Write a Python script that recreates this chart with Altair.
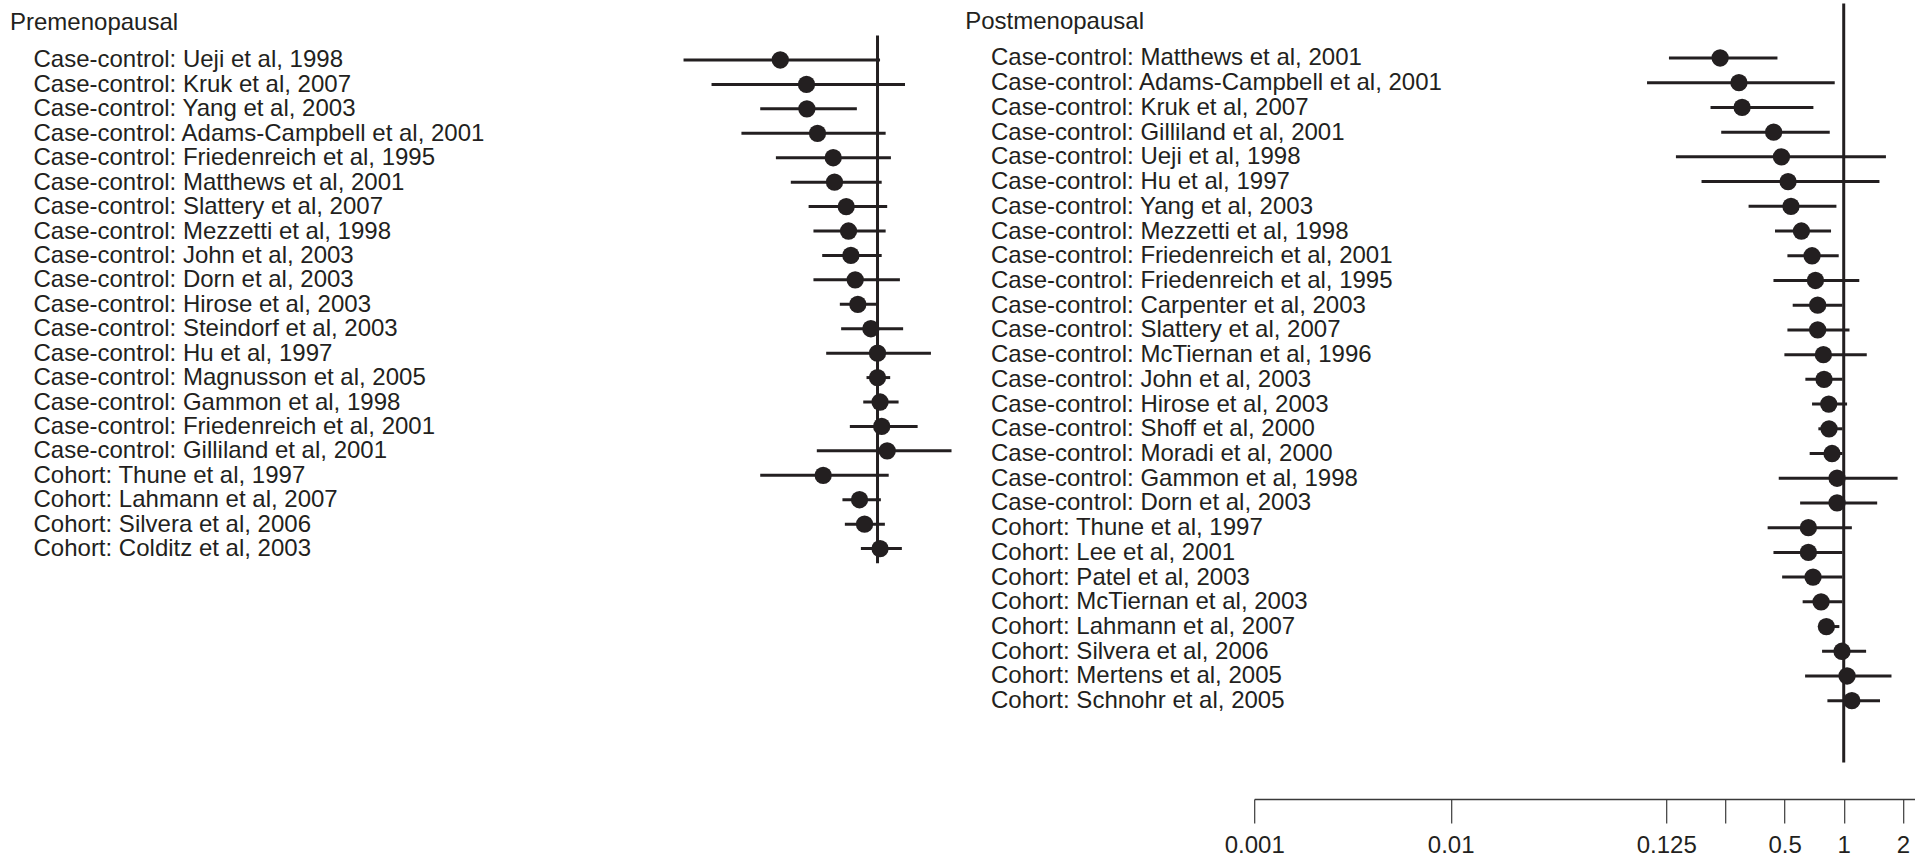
import altair as alt
import pandas as pd

# ---------------- data ----------------
pre_names = [
    "Case-control: Ueji et al, 1998",
    "Case-control: Kruk et al, 2007",
    "Case-control: Yang et al, 2003",
    "Case-control: Adams-Campbell et al, 2001",
    "Case-control: Friedenreich et al, 1995",
    "Case-control: Matthews et al, 2001",
    "Case-control: Slattery et al, 2007",
    "Case-control: Mezzetti et al, 1998",
    "Case-control: John et al, 2003",
    "Case-control: Dorn et al, 2003",
    "Case-control: Hirose et al, 2003",
    "Case-control: Steindorf et al, 2003",
    "Case-control: Hu et al, 1997",
    "Case-control: Magnusson et al, 2005",
    "Case-control: Gammon et al, 1998",
    "Case-control: Friedenreich et al, 2001",
    "Case-control: Gilliland et al, 2001",
    "Cohort: Thune et al, 1997",
    "Cohort: Lahmann et al, 2007",
    "Cohort: Silvera et al, 2006",
    "Cohort: Colditz et al, 2003",
]
pre_est = [0.32, 0.435, 0.437, 0.495, 0.595, 0.604, 0.693, 0.712, 0.732, 0.770,
           0.794, 0.925, 1.0, 1.0, 1.03, 1.05, 1.12, 0.529, 0.810, 0.859, 1.03]
pre_low = [0.103, 0.143, 0.253, 0.203, 0.304, 0.362, 0.446, 0.472, 0.523, 0.472,
           0.643, 0.653, 0.548, 0.879, 0.846, 0.723, 0.491, 0.253, 0.663, 0.682, 0.823]
pre_high = [1.03, 1.38, 0.785, 1.10, 1.17, 1.05, 1.12, 1.10, 1.05, 1.30,
            0.99, 1.35, 1.87, 1.16, 1.28, 1.60, 2.38, 1.14, 1.04, 1.09, 1.33]

post_names = [
    "Case-control: Matthews et al, 2001",
    "Case-control: Adams-Campbell et al, 2001",
    "Case-control: Kruk et al, 2007",
    "Case-control: Gilliland et al, 2001",
    "Case-control: Ueji et al, 1998",
    "Case-control: Hu et al, 1997",
    "Case-control: Yang et al, 2003",
    "Case-control: Mezzetti et al, 1998",
    "Case-control: Friedenreich et al, 2001",
    "Case-control: Friedenreich et al, 1995",
    "Case-control: Carpenter et al, 2003",
    "Case-control: Slattery et al, 2007",
    "Case-control: McTiernan et al, 1996",
    "Case-control: John et al, 2003",
    "Case-control: Hirose et al, 2003",
    "Case-control: Shoff et al, 2000",
    "Case-control: Moradi et al, 2000",
    "Case-control: Gammon et al, 1998",
    "Case-control: Dorn et al, 2003",
    "Cohort: Thune et al, 1997",
    "Cohort: Lee et al, 2001",
    "Cohort: Patel et al, 2003",
    "Cohort: McTiernan et al, 2003",
    "Cohort: Lahmann et al, 2007",
    "Cohort: Silvera et al, 2006",
    "Cohort: Mertens et al, 2005",
    "Cohort: Schnohr et al, 2005",
]
post_est = [0.235, 0.293, 0.304, 0.440, 0.482, 0.521, 0.539, 0.609, 0.690, 0.718,
            0.737, 0.737, 0.788, 0.794, 0.839, 0.842, 0.872, 0.925, 0.925, 0.661,
            0.661, 0.698, 0.767, 0.816, 0.98, 1.04, 1.10]
post_low = [0.129, 0.0998, 0.210, 0.238, 0.140, 0.189, 0.328, 0.447, 0.517, 0.439,
            0.550, 0.517, 0.499, 0.638, 0.690, 0.743, 0.671, 0.467, 0.600, 0.410,
            0.439, 0.486, 0.618, 0.76, 0.776, 0.636, 0.826]
post_high = [0.460, 0.90, 0.701, 0.849, 1.64, 1.52, 0.918, 0.862, 0.943, 1.20,
             0.985, 1.07, 1.31, 0.985, 1.04, 0.985, 0.985, 1.88, 1.48, 1.10,
             0.985, 0.985, 0.985, 0.95, 1.30, 1.75, 1.53]

x_tick_values = [0.001, 0.01, 0.125, 0.25, 0.5, 1, 2]
x_tick_labels = ["0.001", "0.01", "0.125", "", "0.5", "1", "2"]

# ---------------- styling ----------------
INK = "#231f20"
FONT = "Liberation Sans"
FS = 24
W = 660.6
H = 797


def js_list(items):
    return "[" + ",".join("'" + str(s) + "'" for s in items) + "]"


def panel(names, est, low, high, title, y_dom, ref_ext, label_pad, title_x, title_y, show_x):
    n = len(names)
    df = pd.DataFrame({"row": list(range(n)), "study": names,
                       "est": est, "low": low, "high": high})
    ref = pd.DataFrame({"x": [1.0], "y": [ref_ext[0]], "y2": [ref_ext[1]]})

    xscale = alt.Scale(type="log", domain=[0.001, 2.3], nice=False)
    yscale = alt.Scale(domain=y_dom, reverse=True, nice=False, zero=False)

    yaxis = alt.Axis(
        values=list(range(n)),
        labelExpr=js_list(names) + "[datum.value]",
        labelAlign="left", labelBaseline="middle", labelPadding=label_pad,
        labelLimit=700, labelOverlap=False, labelFontSize=FS, labelColor=INK,
        labelFont=FONT, ticks=False, tickSize=0, domain=False, grid=False,
        title=title, titleAngle=0, titleAlign="left", titleBaseline="alphabetic",
        titleX=title_x, titleY=title_y, titleFontSize=FS, titleFontWeight="normal",
        titleColor=INK, titleFont=FONT, titleLimit=600,
    )
    if show_x:
        xaxis = alt.Axis(
            values=x_tick_values,
            labelExpr=js_list(x_tick_labels) + "[indexof(" + str(x_tick_values) + ", datum.value)]",
            tickSize=24, tickWidth=1.2, tickColor="#3a3a3a",
            domainColor="#3a3a3a", domainWidth=1.4,
            labelPadding=10, labelFlush=False, labelOverlap=False,
            labelFontSize=FS, labelColor=INK, labelFont=FONT,
            grid=False, title=None,
        )
    else:
        xaxis = None

    rule = alt.Chart(ref).mark_rule(color=INK, strokeWidth=3).encode(
        x=alt.X("x:Q", scale=xscale, axis=xaxis),
        y=alt.Y("y:Q", scale=yscale, axis=yaxis),
        y2="y2:Q",
    )
    ci = alt.Chart(df).mark_rule(color=INK, strokeWidth=3).encode(
        x=alt.X("low:Q", scale=xscale, axis=xaxis),
        x2="high:Q",
        y=alt.Y("row:Q", scale=yscale, axis=yaxis),
    )
    pts = alt.Chart(df).mark_circle(size=300, color=INK, opacity=1).encode(
        x=alt.X("est:Q", scale=xscale, axis=xaxis),
        y=alt.Y("row:Q", scale=yscale, axis=yaxis),
    )
    return alt.layer(rule, ci, pts).properties(width=W, height=H)


left = panel(pre_names, pre_est, pre_low, pre_high, "Premenopausal",
             [-2.374, 30.25], [-1.0, 20.6], 255.0, -278.5, 27, False)
right = panel(post_names, post_est, post_low, post_high, "Postmenopausal",
              [-2.265, 29.976], [-2.2, 28.5], 263.7, -289.5, 26, True)

chart = alt.hconcat(left, right, spacing=305.2, bounds="flush").properties(
    padding={"left": 9, "top": 2, "right": 0, "bottom": 0},
    background="white",
).configure_view(stroke=None)

chart.save("out.html", embed_options={"renderer": "svg", "actions": False})
